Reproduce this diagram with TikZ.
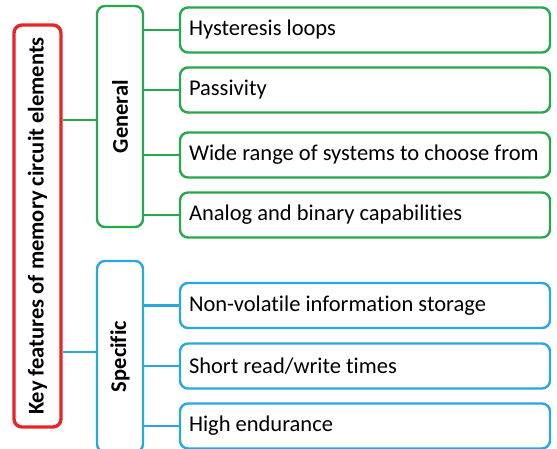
\documentclass[tikz,border=0pt]{standalone}
\usepackage{fontspec}
\setmainfont{Carlito}[Ligatures={NoCommon},RawFeature={-liga}]
\usetikzlibrary{positioning}

\definecolor{keyred}{RGB}{232,38,42}
\definecolor{gengreen}{RGB}{40,168,76}
\definecolor{specblue}{RGB}{41,168,224}

\begin{document}
\begin{tikzpicture}[
        x=1pt, y=1pt,
        box/.style={
            draw, rounded corners=8pt, fill=white,
            line width=2.4pt, inner sep=0pt
        },
        item/.style={
            box, minimum width=370pt, minimum height=45pt, inner xsep=9pt,
            font=\fontsize{22.5}{27}\selectfont, text=black,
            execute at begin node={\hbox to 352pt\bgroup},
            execute at end node={\hfil\egroup}
        },
        group/.style={
            box, minimum height=46pt, rotate=90,
            font=\fontsize{22.5}{27}\selectfont\bfseries
        },
        link/.style={line width=2.4pt}
      ]

  \useasboundingbox (0,0) rectangle (557,-449);

  \node   (key) [box,draw=keyred,line width=3.4pt,minimum height=47pt,minimum width=402pt,rotate=90,font=\fontsize{22.5}{27}\selectfont\bfseries] at (37.5,-226) {Key features of memory circuit elements};

  \node   (general) [group,draw=gengreen,minimum width=221pt] at (120,-116.5) {General};
  \node   (specific) [group,draw=specblue,minimum width=191pt] at (120,-356.5) {Specific};


  \node   (hyst) [item,draw=gengreen] at (365,-30) {Hysteresis loops};
  \node   (pass) [item,draw=gengreen] at (365,-90) {Passivity};
  \node   (wide) [item,draw=gengreen] at (365,-155) {Wide range of systems to choose from};
  \node   (analog) [item,draw=gengreen] at (365,-215) {Analog and binary capabilities};

  \node   (nonvol) [item,draw=specblue] at (365,-305.5) {Non-volatile information storage};
  \node   (short) [item,draw=specblue] at (365,-366) {Short read/write times};
  \node   (endur) [item,draw=specblue] at (365,-426) {High endurance};


  \coordinate (gjoin) at (97,-120);
  \coordinate (sjoin) at (97,-352);
  \draw[link,gengreen] (key.south |- gjoin) -- (gjoin);
  \draw[link,specblue] (key.south |- sjoin) -- (sjoin);

  \foreach \n in {hyst,pass,wide,analog}
    \draw[link,gengreen] (general.south |- \n.west) -- (\n.west);
  \foreach \n in {nonvol,short,endur}
    \draw[link,specblue] (specific.south |- \n.west) -- (\n.west);

\end{tikzpicture}
\end{document}
